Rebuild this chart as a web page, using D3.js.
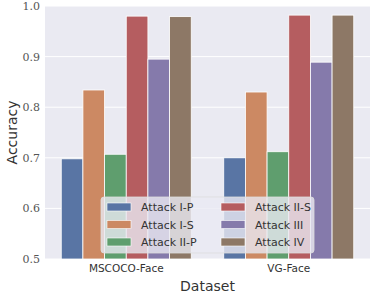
<!DOCTYPE html>
<meta charset="utf-8">
<head>
  <title>Attack accuracy by dataset</title>
</head>

<style>
body {
  margin: 0;
  background: #fff;
}
</style>

<body>
  <div id="content"></div>

  <script src="https://cdnjs.cloudflare.com/ajax/libs/d3/7.8.5/d3.min.js"></script>

  <script>
// categories on the x axis
var datasets = ['MSCOCO-Face', 'VG-Face'];

// one series per attack
var attacks = ['Attack I-P', 'Attack I-S', 'Attack II-P', 'Attack II-S', 'Attack III', 'Attack IV'];

var mscocoValues = [0.698, 0.834, 0.707, 0.980, 0.895, 0.979];
var vgValues = [0.700, 0.830, 0.712, 0.982, 0.889, 0.982];

var yTicks = [0.5, 0.6, 0.7, 0.8, 0.9, 1.0];

// seaborn deep, desaturated like barplot does
var colors = ['#5975a4', '#cc8963', '#5f9e6e', '#b55d60', '#857aab', '#8d7866'];

var values = [mscocoValues, vgValues];

var width = 374, height = 299;
var margin = {top: 6, right: 4, bottom: 40, left: 45};

var svg = d3.select('#content').append('svg')
  .attr('width', width)
  .attr('height', height);

var x = d3.scaleBand()
  .domain(datasets)
  .range([margin.left, width - margin.right])
  .paddingInner(0.2)
  .paddingOuter(0.1);

var xInner = d3.scaleBand()
  .domain(attacks)
  .range([0, x.bandwidth()]);

var y = d3.scaleLinear()
  .domain([0.5, 1.0])
  .range([height - margin.bottom, margin.top]);

var color = d3.scaleOrdinal().domain(attacks).range(colors);

// background
svg.append('rect')
  .attr('x', margin.left)
  .attr('y', margin.top)
  .attr('width', width - margin.left - margin.right)
  .attr('height', height - margin.top - margin.bottom)
  .attr('fill', '#eaeaf2');

// gridlines
svg.append('g')
  .selectAll('line')
  .data(yTicks)
  .enter().append('line')
  .attr('x1', margin.left)
  .attr('x2', width - margin.right)
  .attr('y1', d => y(d))
  .attr('y2', d => y(d))
  .attr('stroke', '#fff')
  .attr('stroke-width', 1);

// bars
datasets.forEach(function(ds, i) {
  svg.append('g')
    .attr('transform', 'translate(' + x(ds) + ',0)')
    .selectAll('rect')
    .data(values[i])
    .enter().append('rect')
    .attr('x', (d, j) => xInner(attacks[j]))
    .attr('y', d => y(d))
    .attr('width', xInner.bandwidth())
    .attr('height', d => y(0.5) - y(d))
    .attr('fill', (d, j) => color(attacks[j]))
    .attr('stroke', '#fff')
    .attr('stroke-width', 0.8);
});

// y axis
var yAxis = svg.append('g')
  .attr('transform', 'translate(' + margin.left + ',0)')
  .call(d3.axisLeft(y).tickValues(yTicks).tickFormat(d3.format('.1f')).tickSize(0).tickPadding(5));
yAxis.select('.domain').remove();
yAxis.selectAll('text')
  .attr('font-family', '"DejaVu Serif", serif')
  .attr('font-size', 11)
  .attr('fill', '#555');

// x axis
var xAxis = svg.append('g')
  .attr('transform', 'translate(0,' + (height - margin.bottom) + ')')
  .call(d3.axisBottom(x).tickSize(0).tickPadding(6));
xAxis.select('.domain').remove();
xAxis.selectAll('text')
  .attr('font-family', '"DejaVu Sans", sans-serif')
  .attr('font-size', 10.5)
  .attr('fill', '#333');

// axis titles
svg.append('text')
  .attr('transform', 'translate(17,' + ((margin.top + height - margin.bottom) / 2) + ') rotate(-90)')
  .attr('text-anchor', 'middle')
  .attr('font-family', '"DejaVu Sans", sans-serif')
  .attr('font-size', 14)
  .attr('fill', '#333')
  .text('Accuracy');

svg.append('text')
  .attr('x', (margin.left + width - margin.right) / 2)
  .attr('y', 291)
  .attr('text-anchor', 'middle')
  .attr('font-family', '"DejaVu Sans", sans-serif')
  .attr('font-size', 14)
  .attr('fill', '#333')
  .text('Dataset');

// legend
var legend = svg.append('g').attr('transform', 'translate(101,197)');
legend.append('rect')
  .attr('width', 213)
  .attr('height', 56)
  .attr('rx', 3)
  .attr('fill', '#eaeaf2')
  .attr('fill-opacity', 0.8)
  .attr('stroke', '#ddd')
  .attr('stroke-opacity', 0.8);

var items = legend.selectAll('g.item')
  .data(attacks)
  .enter().append('g')
  .attr('class', 'item')
  .attr('transform', (d, i) => 'translate(' + (6 + Math.floor(i / 3) * 114) + ',' + (10 + (i % 3) * 17.5) + ')');

items.append('rect')
  .attr('y', -4)
  .attr('width', 24)
  .attr('height', 8)
  .attr('fill', d => color(d))
  .attr('stroke', '#fff')
  .attr('stroke-width', 0.6);

items.append('text')
  .attr('x', 34)
  .attr('y', 4)
  .attr('font-family', '"DejaVu Sans", sans-serif')
  .attr('font-size', 11)
  .attr('fill', '#333')
  .text(d => d);
  </script>
</body>
</html>
